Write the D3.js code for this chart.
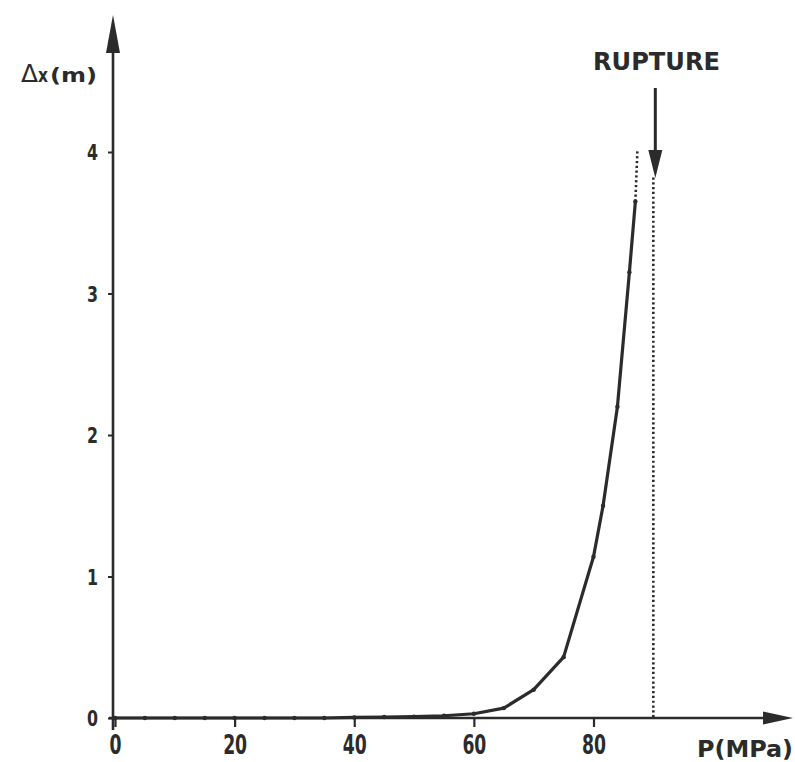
<!DOCTYPE html>
<html><head><meta charset="utf-8">
<script src="https://cdn.jsdelivr.net/npm/d3@7"></script>
<style>
html,body{margin:0;padding:0;background:#fff;}
svg{display:block;}
</style></head>
<body>
<svg id="c" width="795" height="762"></svg>
<script>
// ---- data ----
const pressure = [0,5,10,15,20,25,30,35,40,45,50,55,60,65,70,75,80,81.6,84,86,87];
const displacement = [0,0,0,0,0,0,0,0,0.004,0.007,0.01,0.016,0.03,0.07,0.2,0.43,1.14,1.5,2.2,3.15,3.65];
const extension = [[87,3.65],[87.35,4.02]];
const rupturePressure = 90;
const xTicks = [0,20,40,60,80];
const yTicks = [0,1,2,3,4];
const xTitle = "P(MPa)";
const yTitleSym = "Δ";
const yTitleX = "x";
const yTitleUnit = "(m)";
const ruptureLabel = "RUPTURE";

const ink = "#2b2b2b";
const svg = d3.select("#c");
const x = d3.scaleLinear().domain([0,80]).range([115,593.5]);
const y = d3.scaleLinear().domain([0,4]).range([718,152]);

const font = "'DejaVu Sans Condensed','Liberation Sans Narrow',sans-serif";

// x axis ticks
const gx = svg.append("g").attr("transform",`translate(0,${y(0)})`)
  .call(d3.axisBottom(x).tickValues(xTicks).tickSize(9).tickPadding(8).tickFormat(d3.format("d")));
gx.select(".domain").remove();
gx.selectAll("line").attr("stroke",ink).attr("stroke-width",2.2);
gx.selectAll("text").attr("fill",ink).attr("font-family",font).attr("font-weight","bold")
  .attr("font-size",27).attr("dy","0.72em")
  .attr("textLength",d=>String(d).length*12).attr("lengthAdjust","spacingAndGlyphs");

// y axis ticks
const gy = svg.append("g").attr("transform",`translate(${x(0)-2},0)`)
  .call(d3.axisLeft(y).tickValues(yTicks).tickSize(5).tickPadding(10).tickFormat(d3.format("d")));
gy.select(".domain").remove();
gy.selectAll("line").attr("stroke",ink).attr("stroke-width",2);
gy.selectAll("text").attr("fill",ink).attr("font-family",font).attr("font-weight","bold")
  .attr("font-size",21).attr("dy","0.36em")
  .attr("textLength",11).attr("lengthAdjust","spacingAndGlyphs");

// axis lines with arrows
const axX0 = x(0)-6, axXEnd = 793, axY = y(0);
svg.append("line").attr("x1",axX0).attr("x2",axXEnd-26).attr("y1",axY).attr("y2",axY)
  .attr("stroke",ink).attr("stroke-width",2.6);
svg.append("path").attr("d",`M${axXEnd},${axY} L${axXEnd-30},${axY-6.5} L${axXEnd-30},${axY+6.5} Z`).attr("fill",ink);

const axYX = x(0)-2, axYTop = 15;
svg.append("line").attr("x1",axYX).attr("x2",axYX).attr("y1",y(0)+12).attr("y2",axYTop+30)
  .attr("stroke",ink).attr("stroke-width",2.6);
svg.append("path").attr("d",`M${axYX},${axYTop} L${axYX-7},${axYTop+38} L${axYX+7},${axYTop+38} Z`).attr("fill",ink);

// rupture dotted line
svg.append("line").attr("x1",x(rupturePressure)).attr("x2",x(rupturePressure))
  .attr("y1",y(3.82)).attr("y2",y(0)).attr("stroke",ink).attr("stroke-width",2.6)
  .attr("stroke-dasharray","2.2,2.6");

// rupture arrow
const ax = x(rupturePressure)+2;
svg.append("line").attr("x1",ax).attr("x2",ax).attr("y1",88).attr("y2",158)
  .attr("stroke",ink).attr("stroke-width",3);
svg.append("path").attr("d",`M${ax},${178} L${ax-7},${150} L${ax+7},${150} Z`).attr("fill",ink);
svg.append("text").attr("x",593).attr("y",70).attr("font-family",font).attr("font-weight","bold")
  .attr("font-size",24).attr("fill",ink).attr("textLength",127).attr("lengthAdjust","spacingAndGlyphs")
  .text(ruptureLabel);

// curve
const line = d3.line().x((d,i)=>x(pressure[i])).y((d,i)=>y(displacement[i]));
svg.append("path").datum(pressure).attr("d",line).attr("fill","none")
  .attr("stroke",ink).attr("stroke-width",3.2).attr("stroke-linejoin","round");
svg.selectAll("circle.pt").data(pressure).enter().append("circle").attr("class","pt")
  .attr("cx",(d)=>x(d)).attr("cy",(d,i)=>y(displacement[i])).attr("r",2.2).attr("fill",ink);

// dotted extension
svg.append("path").datum(extension).attr("d",d3.line().x(d=>x(d[0])).y(d=>y(d[1])))
  .attr("fill","none").attr("stroke",ink).attr("stroke-width",2.6).attr("stroke-dasharray","2.2,2.6");

// axis titles
svg.append("text").attr("x",697).attr("y",757).attr("font-family",font).attr("font-weight","bold")
  .attr("font-size",23).attr("fill",ink).attr("textLength",96).attr("lengthAdjust","spacingAndGlyphs")
  .text(xTitle);
svg.append("text").attr("x",21).attr("y",82).attr("fill",ink)
  .attr("font-family","'DejaVu Sans',sans-serif").attr("font-size",25).text(yTitleSym);
svg.append("text").attr("x",38).attr("y",82).attr("fill",ink).attr("font-family","'DejaVu Sans',sans-serif")
  .attr("font-weight","bold").attr("font-size",20).attr("textLength",10).attr("lengthAdjust","spacingAndGlyphs")
  .text(yTitleX);
svg.append("text").attr("x",50).attr("y",82).attr("fill",ink).attr("font-family",font)
  .attr("font-weight","bold").attr("font-size",20).attr("textLength",47).attr("lengthAdjust","spacingAndGlyphs")
  .text(yTitleUnit);
</script>
</body></html>
